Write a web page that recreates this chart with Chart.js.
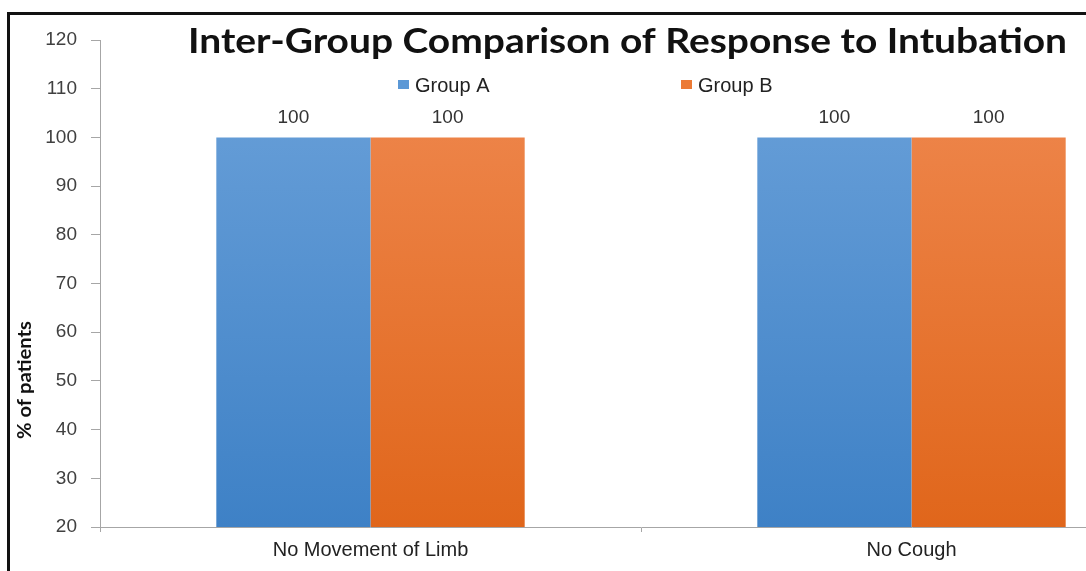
<!DOCTYPE html>
<html><head><meta charset="utf-8">
<script src="https://cdn.jsdelivr.net/npm/chart.js@4.4.1/dist/chart.umd.min.js"></script>
<style>
html,body{margin:0;padding:0;background:#fff;overflow:hidden;width:1086px;height:571px;}
#wrap{position:absolute;left:0;top:0;width:1200px;height:571px;}
#frame{position:absolute;left:7px;top:12px;width:1200px;height:600px;border-top:3px solid #111;border-left:3px solid #111;pointer-events:none;}
</style></head><body>
<div id="wrap"><canvas id="c" width="1200" height="571"></canvas></div>
<div id="frame"></div>
<script>
const categories = ['No Movement of Limb', 'No Cough'];
const seriesNames = ['Group A', 'Group B'];
const groupA = [100, 100];
const groupB = [100, 100];
const yMin = 20, yMax = 120, yStep = 10;
const titleText = 'Inter-Group Comparison of Response to Intubation';
const yTitleText = '% of patients';

function grad(top, bottom) {
  return (c) => {
    const ca = c.chart.chartArea;
    if (!ca) return top;
    const g = c.chart.ctx.createLinearGradient(0, ca.top, 0, ca.bottom);
    g.addColorStop(0, top);
    g.addColorStop(1, bottom);
    return g;
  };
}
const legendColors = ['#5b98d6', '#ec7a35'];

const overlay = {
  id: 'overlay',
  afterDatasetsDraw(chart) {
    const ctx = chart.ctx;
    ctx.save();
    // value labels
    ctx.font = '19px "Liberation Sans", Arial, sans-serif';
    ctx.fillStyle = '#333';
    ctx.textAlign = 'center';
    ctx.textBaseline = 'alphabetic';
    chart.data.datasets.forEach((ds, i) => {
      chart.getDatasetMeta(i).data.forEach((bar, j) => {
        ctx.fillText(String(ds.data[j]), bar.x, bar.y - 14);
      });
    });
    // title
    ctx.font = 'bold 35px Lato, sans-serif';
    const tw = ctx.measureText(titleText).width;
    ctx.save();
    ctx.translate(188, 53);
    ctx.scale(879 / tw, 1);
    ctx.textAlign = 'left';
    ctx.fillStyle = '#111';
    ctx.fillText(titleText, 0, 0);
    ctx.restore();
    // legend
    ctx.font = '20px "Liberation Sans", Arial, sans-serif';
    ctx.textAlign = 'left';
    chart.data.datasets.forEach((ds, i) => {
      const x = 398 + i * 283;
      ctx.fillStyle = legendColors[i];
      ctx.fillRect(x, 80, 11, 9);
      ctx.fillStyle = '#222';
      ctx.fillText(ds.label, x + 17, 92);
    });
    // y axis title
    ctx.font = 'bold 18px Lato, sans-serif';
    const yw = ctx.measureText(yTitleText).width;
    ctx.save();
    ctx.translate(31, 380);
    ctx.rotate(-Math.PI / 2);
    ctx.scale(118 / yw, 1);
    ctx.textAlign = 'center';
    ctx.fillStyle = '#111';
    ctx.fillText(yTitleText, 0, 0);
    ctx.restore();
    ctx.restore();
  }
};

new Chart(document.getElementById('c'), {
  type: 'bar',
  data: {
    labels: categories,
    datasets: [
      { label: seriesNames[0], data: groupA, backgroundColor: grad('#6ca2da', '#3e81c6') },
      { label: seriesNames[1], data: groupB, backgroundColor: grad('#f08a52', '#e0661b') }
    ]
  },
  options: {
    responsive: false,
    animation: false,
    devicePixelRatio: 1,
    layout: { padding: { top: 40, right: 18, left: 0, bottom: 0 } },
    datasets: { bar: { categoryPercentage: 0.57, barPercentage: 1.0 } },
    plugins: { legend: { display: false }, title: { display: false }, tooltip: { enabled: false } },
    scales: {
      x: {
        offset: true,
        grid: { offset: true, drawOnChartArea: false, drawTicks: true, tickLength: 5, color: '#a6a6a6' },
        border: { color: '#a6a6a6', width: 1 },
        ticks: { color: '#222', padding: 6, font: { family: '"Liberation Sans", Arial, sans-serif', size: 20 } },
        afterFit(s) { s.height = 44; }
      },
      y: {
        min: yMin, max: yMax,
        ticks: { stepSize: yStep, color: '#404040', padding: 14, font: { family: '"Liberation Sans", Arial, sans-serif', size: 19 } },
        grid: { drawOnChartArea: false, drawTicks: true, tickLength: 9, color: '#a6a6a6' },
        border: { color: '#a6a6a6', width: 1 },
        afterFit(s) { s.width = 100; }
      }
    }
  },
  plugins: [overlay]
});
</script>
</body></html>
